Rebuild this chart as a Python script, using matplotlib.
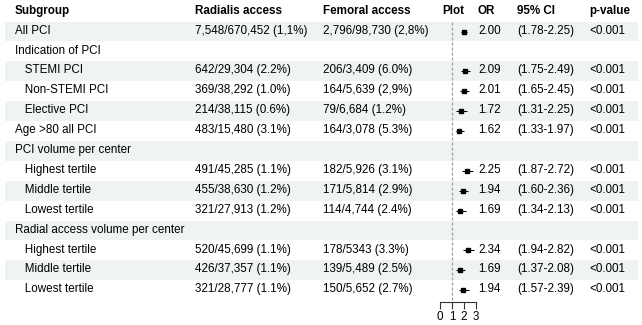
import numpy as np
import matplotlib
matplotlib.use("Agg")
import matplotlib.pyplot as plt
from matplotlib.patches import Rectangle

# table content
subgroups = ["All PCI", "Indication of PCI", "   STEMI PCI", "   Non-STEMI PCI",
             "   Elective PCI", "Age >80 all PCI", "PCI volume per center",
             "   Highest tertile", "   Middle tertile", "   Lowest tertile",
             "Radial access volume per center", "   Highest tertile",
             "   Middle tertile", "   Lowest tertile"]
radialis = ["7,548/670,452 (1,1%)", "", "642/29,304 (2.2%)", "369/38,292 (1.0%)",
            "214/38,115 (0.6%)", "483/15,480 (3.1%)", "", "491/45,285 (1.1%)",
            "455/38,630 (1.2%)", "321/27,913 (1.2%)", "", "520/45,699 (1.1%)",
            "426/37,357 (1.1%)", "321/28,777 (1.1%)"]
femoral = ["2,796/98,730 (2,8%)", "", "206/3,409 (6.0%)", "164/5,639 (2,9%)",
           "79/6,684 (1.2%)", "164/3,078 (5.3%)", "", "182/5,926 (3.1%)",
           "171/5,814 (2.9%)", "114/4,744 (2.4%)", "", "178/5343 (3.3%)",
           "139/5,489 (2.5%)", "150/5,652 (2.7%)"]
odds_ratio = [2.00, np.nan, 2.09, 2.01, 1.72, 1.62, np.nan, 2.25, 1.94, 1.69,
              np.nan, 2.34, 1.69, 1.94]
ci_low = [1.78, np.nan, 1.75, 1.65, 1.31, 1.33, np.nan, 1.87, 1.60, 1.34,
          np.nan, 1.94, 1.37, 1.57]
ci_high = [2.25, np.nan, 2.49, 2.45, 2.25, 1.97, np.nan, 2.72, 2.36, 2.13,
           np.nan, 2.82, 2.08, 2.39]
p_values = ["<0.001", "", "<0.001", "<0.001", "<0.001", "<0.001", "", "<0.001",
            "<0.001", "<0.001", "", "<0.001", "<0.001", "<0.001"]
headers = ["Subgroup", "Radialis access", "Femoral access", "Plot", "OR",
           "95% CI", "p-value"]
axis_ticks = [0, 1, 2, 3]

plt.rcParams['font.family'] = ['Liberation Sans', 'DejaVu Sans']
FS = 8.4
W, H = 642, 325
ROW0, ROWH = 31.5, 19.9          # pixel centre of first row, row height
n = len(subgroups)
ylim = ((H - ROW0) / ROWH, -ROW0 / ROWH)

fig = plt.figure(figsize=(W / 100, H / 100), dpi=100)
ax = fig.add_axes([0, 0, 1, 1])
ax.set_xlim(0, W)
ax.set_ylim(*ylim)
ax.axis('off')

# striped row background
for i in range(n):
    if i % 2 == 0:
        ax.add_patch(Rectangle((5, i - 0.5), 633, 1, facecolor='#eff3f2',
                               edgecolor='none', zorder=0))

col_x = [15, 195, 323, 442, 478, 517, 589]
base_off = 0.11

for x, h in zip(col_x, headers):
    ax.text(x, -1 + base_off, h, fontsize=FS, fontweight='bold', va='baseline',
            ha='left', color='black')

for i in range(n):
    y = i + base_off
    ax.text(col_x[0], y, subgroups[i], fontsize=FS, va='baseline', ha='left')
    ax.text(col_x[1], y, radialis[i], fontsize=FS, va='baseline', ha='left')
    ax.text(col_x[2], y, femoral[i], fontsize=FS, va='baseline', ha='left')
    if not np.isnan(odds_ratio[i]):
        ax.text(col_x[4], y, f"{odds_ratio[i]:.2f}", fontsize=FS,
                va='baseline', ha='left')
        ax.text(col_x[5], y, f"({ci_low[i]:.2f}-{ci_high[i]:.2f})",
                fontsize=FS, va='baseline', ha='left')
    ax.text(col_x[6], y, p_values[i], fontsize=FS, va='baseline', ha='left')

# forest plot panel
fax = fig.add_axes([440 / W, 0, 36 / W, 1])
fax.set_xlim(0, 3)
fax.set_ylim(*ylim)
fax.patch.set_alpha(0)
for s in ['top', 'left', 'right']:
    fax.spines[s].set_visible(False)
axis_row = (301.7 - ROW0) / ROWH
fax.spines['bottom'].set_position(('data', axis_row))
fax.spines['bottom'].set_linewidth(0.8)
fax.spines['bottom'].set_color('#333333')
fax.set_yticks([])
fax.set_xticks(axis_ticks)
fax.set_xticklabels([str(t) for t in axis_ticks], fontsize=FS)
fax.tick_params(axis='x', direction='out', length=5, width=0.8,
                color='#333333', pad=1.5)

fax.vlines(1, -0.5, axis_row, colors='#a0a0a0', linestyles=(0, (2.5, 1.5)),
           linewidth=0.9)

rows = np.arange(n)
fax.hlines(rows, ci_low, ci_high, colors='black', linewidth=0.75)
fax.plot(odds_ratio, rows, linestyle='none', marker='s', markersize=2.7,
         color='black')

fig.savefig('out.png', dpi=100)
